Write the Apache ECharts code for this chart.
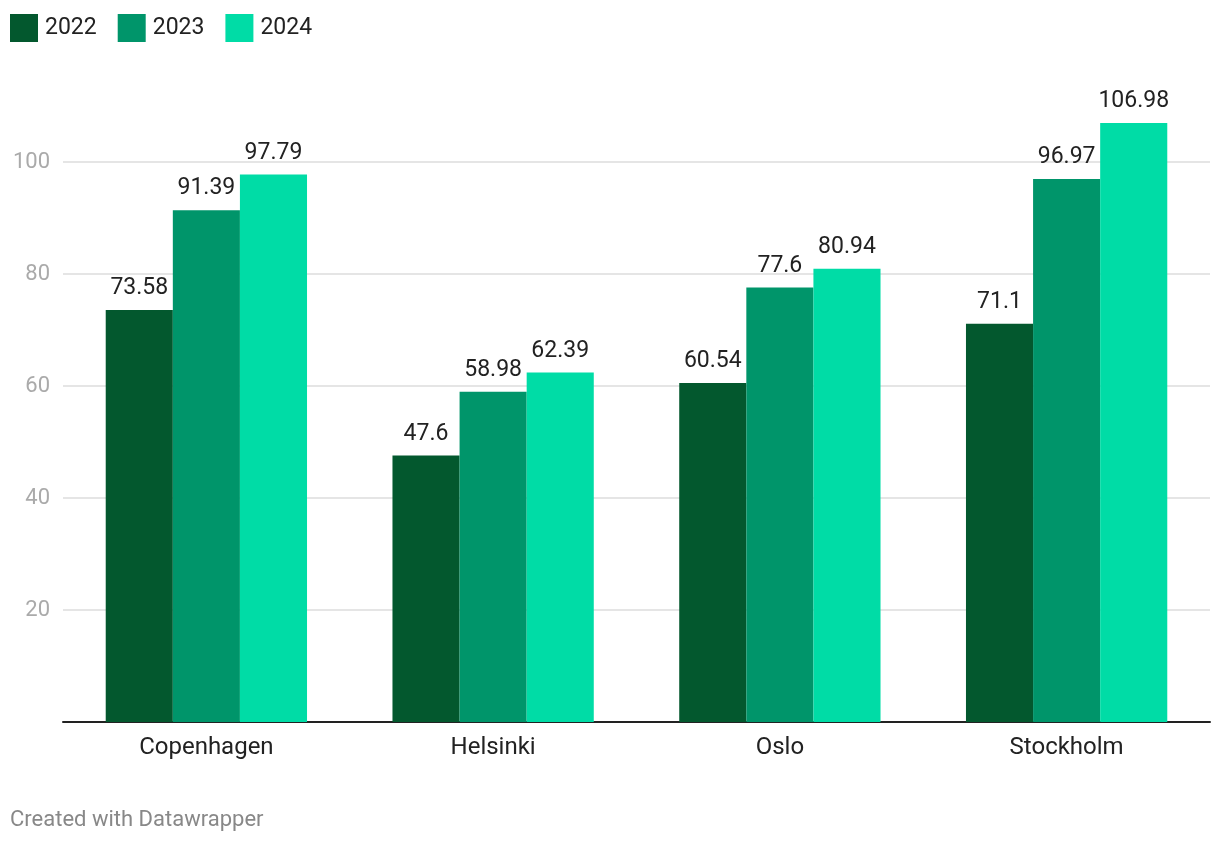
<!DOCTYPE html>
<html>
<head>
<meta charset="utf-8">
<script src="https://cdn.jsdelivr.net/npm/echarts@6/dist/echarts.min.js"></script>
<style>
html,body{margin:0;padding:0;background:#fff;}
#c{width:1220px;height:844px;}
</style>
</head>
<body>
<div id="c"></div>
<script>
const categories = ['Copenhagen', 'Helsinki', 'Oslo', 'Stockholm'];
const seriesNames = ['2022', '2023', '2024'];
const v2022 = [73.58, 47.6, 60.54, 71.1];
const v2023 = [91.39, 58.98, 77.6, 96.97];
const v2024 = [97.79, 62.39, 80.94, 106.98];
const colors = ['#03582e', '#00956a', '#00dca6'];
const yTicks = [20, 40, 60, 80, 100];

const chart = echarts.init(document.getElementById('c'));
const font = 'Roboto, "Noto Sans", sans-serif';
const values = [v2022, v2023, v2024];
chart.setOption({
  animation: false,
  textStyle: { fontFamily: font },
  legend: {
    left: 5, top: 9,
    itemWidth: 28, itemHeight: 28, itemGap: 21,
    icon: 'rect',
    textStyle: { fontSize: 23, color: '#222', fontFamily: font, padding: [0, 0, 0, 2] },
    data: seriesNames
  },
  grid: { left: 63, right: 10, top: 162, bottom: 122, containLabel: false },
  xAxis: {
    type: 'category',
    data: categories,
    axisLine: { lineStyle: { color: '#222', width: 2 } },
    axisTick: { show: false },
    axisLabel: { fontSize: 24, color: '#222', margin: 14, fontFamily: font }
  },
  yAxis: {
    type: 'value',
    min: 0, max: 100, interval: 20,
    axisLine: { show: false },
    axisTick: { show: false },
    splitLine: { lineStyle: { color: '#dddddd', width: 1.5 } },
    axisLabel: {
      fontSize: 22, color: '#aaaaaa', margin: 13, fontFamily: font,
      formatter: function (v) { return yTicks.indexOf(v) >= 0 ? String(v) : ''; }
    }
  },
  series: seriesNames.map(function (name, i) {
    return {
      name: name,
      type: 'bar',
      data: values[i],
      clip: false,
      barGap: '0%',
      barCategoryGap: '29.8%',
      itemStyle: { color: colors[i] },
      label: {
        show: true, position: 'top', distance: 10,
        fontSize: 23, color: '#222', fontFamily: font
      }
    };
  }),
  graphic: [{
    type: 'text', left: 10, top: 809,
    style: { text: 'Created with Datawrapper', fontSize: 22, fill: '#888888', fontFamily: font }
  }]
});
</script>
</body>
</html>
